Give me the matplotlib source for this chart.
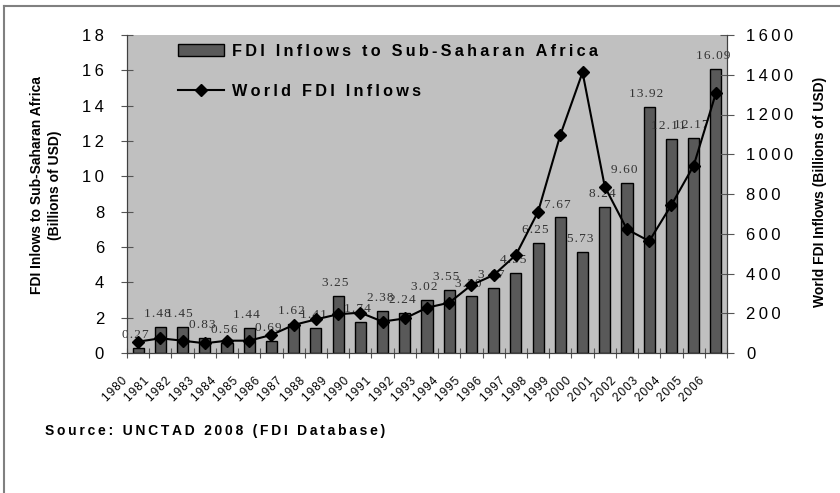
import matplotlib.pyplot as plt
import matplotlib.transforms as mtransforms
from matplotlib.lines import Line2D
import numpy as np

# data
years = [str(y) for y in range(1980, 2007)]
ssa_fdi = [0.27, 1.48, 1.45, 0.83, 0.56, 1.44, 0.69, 1.62, 1.41, 3.25,
           1.74, 2.38, 2.24, 3.02, 3.55, 3.20, 3.67, 4.55, 6.25, 7.67,
           5.73, 8.24, 9.60, 13.92, 12.11, 12.17, 16.09]
world_fdi = [57, 74, 62, 49, 62, 62, 91, 141, 169, 195,
             203, 158, 174, 228, 253, 342, 392, 493, 711, 1097,
             1412, 837, 622, 563, 745, 943, 1307]
left_ticks = list(range(0, 19, 2))
right_ticks = list(range(0, 1601, 200))

THIN = "\u2009"
HAIR = "\u200a"
SANS = ["Liberation Sans", "DejaVu Sans"]
SERIF = ["Liberation Serif", "DejaVu Serif"]


def spaced(s, gap=THIN):
    # old Excel export used wide letter spacing
    return gap.join(s)


plt.rcParams["font.family"] = SANS

fig = plt.figure(figsize=(8.4, 4.93), dpi=100)
ax = fig.add_axes([127 / 840, 1 - 353 / 493, 600 / 840, 318 / 493])
ax.set_facecolor("#c0c0c0")
ax2 = ax.twinx()

x = np.arange(len(years))
bars = ax.bar(x, ssa_fdi, width=0.5, color="#595959", edgecolor="black",
              linewidth=1, label=spaced("FDI Inflows to Sub-Saharan Africa"))
for xi, v in zip(x, ssa_fdi):
    ax.annotate(spaced(f"{v:.2f}", HAIR), (xi, v), xytext=(-2, 5),
                textcoords="offset points", ha="center", va="bottom",
                fontsize=9.5, family=SERIF, color="#333333")

line, = ax2.plot(x, world_fdi, color="black", lw=1.5, marker="D", ms=6,
                 label=spaced("World FDI Inflows"))

ax.set_xlim(-0.5, len(years) - 0.5)
ax.set_ylim(0, 18)
ax2.set_ylim(0, 1600)

ax.set_yticks(left_ticks)
ax.set_yticklabels([spaced(str(t)) for t in left_ticks])
ax2.set_yticks(right_ticks)
ax2.set_yticklabels([spaced(str(t)) for t in right_ticks])
ax.tick_params(axis="y", direction="inout", length=9, width=0.8,
               color="#555555", labelsize=12, pad=12)
ax2.tick_params(axis="y", direction="inout", length=10, width=0.8,
                color="#555555", labelsize=12, pad=9)

ax.set_xticks(x)
ax.set_xticklabels([spaced(y, HAIR) for y in years], rotation=45,
                   ha="right", va="top", rotation_mode="anchor", fontsize=8.5)
ax.set_xticks(np.arange(-0.5, len(years), 1), minor=True)
ax.tick_params(axis="x", which="major", length=0, pad=16)
ax.tick_params(axis="x", which="minor", direction="inout", length=7,
               width=0.8, color="#555555")
shift = mtransforms.ScaledTranslation(-0.17, 0, fig.dpi_scale_trans)
for lbl in ax.get_xticklabels():
    lbl.set_transform(lbl.get_transform() + shift)

for a in (ax, ax2):
    a.spines["top"].set_visible(False)
    for s in ("left", "right", "bottom"):
        a.spines[s].set_color("#404040")

ax2.legend(handles=[bars, line], loc="upper left",
           bbox_to_anchor=(0.085, 0.972), frameon=False,
           prop={"family": SANS, "weight": "bold", "size": 11.7},
           handlelength=2.8, handleheight=0.75, handletextpad=0.5,
           labelspacing=1.55, borderpad=0, borderaxespad=0)

fig.text(46 / 840, 1 - 185 / 493,
         "FDI Inlows to Sub-Saharan Africa\n(Billions of USD)",
         rotation=90, ha="center", va="center", multialignment="center",
         fontsize=10, fontweight="bold", linespacing=1.3)
fig.text(820 / 840, 1 - 192 / 493, "World FDI Inflows (Billions of USD)",
         rotation=90, ha="center", va="center",
         fontsize=10, fontweight="bold")

fig.text(45 / 840, 1 - 435 / 493, spaced("Source: UNCTAD 2008 (FDI Database)"),
         fontsize=10, fontweight="bold", va="baseline")

# grey frame from the original document
fig.add_artist(Line2D([4 / 840, 4 / 840], [0, 1 - 6 / 493],
                      transform=fig.transFigure, color="#808080", lw=1.5))
fig.add_artist(Line2D([4 / 840, 1], [1 - 6 / 493, 1 - 6 / 493],
                      transform=fig.transFigure, color="#808080", lw=1.5))

fig.savefig("out.png", dpi=100)
